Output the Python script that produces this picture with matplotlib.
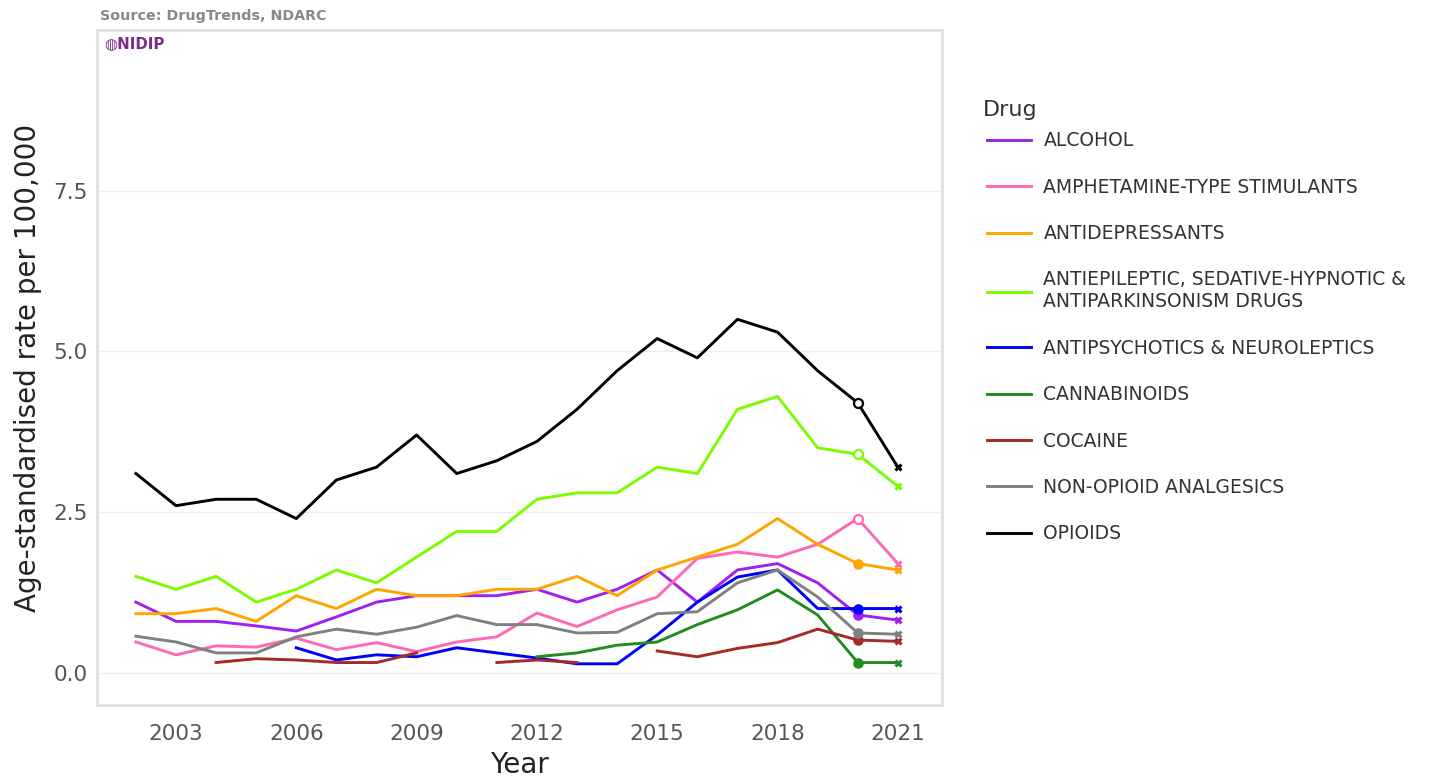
import matplotlib
matplotlib.use("Agg")
import matplotlib.pyplot as plt
import numpy as np

plt.rcParams['font.family'] = ['DejaVu Sans']

years = np.arange(2002, 2022)
nan = np.nan

drugs = ["ALCOHOL", "AMPHETAMINE-TYPE STIMULANTS", "ANTIDEPRESSANTS",
         "ANTIEPILEPTIC, SEDATIVE-HYPNOTIC &\nANTIPARKINSONISM DRUGS",
         "ANTIPSYCHOTICS & NEUROLEPTICS", "CANNABINOIDS", "COCAINE",
         "NON-OPIOID ANALGESICS", "OPIOIDS"]

alcohol = [1.1, 0.8, 0.8, 0.73, 0.65, 0.87, 1.1, 1.2, 1.2, 1.2, 1.3, 1.1, 1.3, 1.6, 1.1, 1.6, 1.7, 1.4, 0.9, 0.82]
amphet = [0.48, 0.28, 0.42, 0.4, 0.54, 0.36, 0.47, 0.33, 0.48, 0.56, 0.93, 0.72, 0.98, 1.18, 1.78, 1.88, 1.8, 2.0, 2.4, 1.7]
antidep = [0.92, 0.92, 1.0, 0.8, 1.2, 1.0, 1.3, 1.2, 1.2, 1.3, 1.3, 1.5, 1.2, 1.6, 1.8, 2.0, 2.4, 2.0, 1.7, 1.6]
antiepi = [1.5, 1.3, 1.5, 1.1, 1.3, 1.6, 1.4, 1.8, 2.2, 2.2, 2.7, 2.8, 2.8, 3.2, 3.1, 4.1, 4.3, 3.5, 3.4, 2.9]
antipsy = [nan, nan, nan, nan, 0.39, 0.2, 0.28, 0.25, 0.39, 0.31, 0.23, 0.14, 0.14, 0.59, 1.1, 1.49, 1.6, 1.0, 1.0, 1.0]
cannab = [nan, nan, nan, nan, nan, nan, nan, nan, nan, nan, 0.25, 0.31, 0.43, 0.48, 0.75, 0.98, 1.29, 0.9, 0.16, 0.16]
cocaine = [nan, nan, 0.16, 0.22, 0.2, 0.16, 0.16, 0.31, nan, 0.16, 0.2, 0.16, nan, 0.34, 0.25, 0.38, 0.47, 0.68, 0.51, 0.49]
nonopioid = [0.57, 0.48, 0.31, 0.31, 0.56, 0.68, 0.6, 0.71, 0.89, 0.75, 0.75, 0.62, 0.63, 0.92, 0.95, 1.4, 1.6, 1.18, 0.62, 0.6]
opioids = [3.1, 2.6, 2.7, 2.7, 2.4, 3.0, 3.2, 3.7, 3.1, 3.3, 3.6, 4.1, 4.7, 5.2, 4.9, 5.5, 5.3, 4.7, 4.2, 3.2]

series = [alcohol, amphet, antidep, antiepi, antipsy, cannab, cocaine, nonopioid, opioids]
colors = ["#A020F0", "#FF69B4", "#FFA500", "#7CFC00", "#0000FF",
          "#228B22", "#A52A2A", "#808080", "#000000"]
hollow = [False, True, False, True, False, False, False, False, True]

fig = plt.figure(figsize=(14.39, 7.8), dpi=100)
ax = fig.add_axes([0.0674, 0.0962, 0.5872, 0.8653])

handles = []
for name, vals, c, h in zip(drugs, series, colors, hollow):
    vals = np.array(vals, dtype=float)
    ln, = ax.plot(years, vals, color=c, lw=2.1, label=name)
    handles.append(ln)
    # markers for the last two years
    ax.plot(years[-2], vals[-2], marker='o', ms=6.5 if h else 6,
            mfc='white' if h else c, mec=c, mew=1.6, ls='none')
    ax.plot(years[-1], vals[-1], marker='x', ms=5, mec=c, mew=2.2, ls='none')

ax.set_xlim(2001.03, 2022.1)
ax.set_ylim(-0.5, 10.0)
ax.set_xticks(np.arange(2003, 2022, 3))
ax.set_yticks([0.0, 2.5, 5.0, 7.5])
ax.set_yticklabels(["0.0", "2.5", "5.0", "7.5"])
ax.tick_params(axis='both', length=0, labelsize=15.5, labelcolor='#555555')
ax.tick_params(axis='x', pad=14)
ax.tick_params(axis='y', pad=6.5)
ax.grid(axis='y', color='#eeeeee', lw=1)
ax.set_axisbelow(True)
for s in ax.spines.values():
    s.set_color('#dddddd')
    s.set_linewidth(1.8)

ax.set_xlabel("Year", fontsize=20, color='#222222', labelpad=5)
ax.set_ylabel("Age-standardised rate per 100,000", fontsize=20, color='#222222', labelpad=8)

fig.text(0.0695, 0.979, "Source: DrugTrends, NDARC", fontsize=10.3, color='#888888',
         fontweight='bold', va='center')
fig.text(0.0725, 0.944, "\u25cdNIDIP", fontsize=10.8, color='#7B2D8E', fontweight='bold', va='center')

fig.text(0.6831, 0.859, "Drug", fontsize=16, color='#333333', va='center')
leg = fig.legend(handles=handles, loc='upper left', bbox_to_anchor=(0.6796, 0.8436),
                 frameon=False, fontsize=13.5, borderpad=0,
                 handlelength=2.35, handletextpad=0.64, labelspacing=1.46)
for t in leg.get_texts():
    t.set_color('#333333')

fig.savefig("out.png", dpi=100)
